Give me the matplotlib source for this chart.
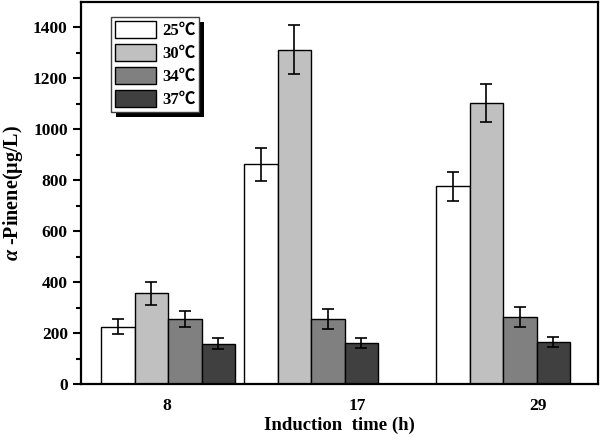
import numpy as np
import matplotlib
matplotlib.use('Agg')
import matplotlib.pyplot as plt
from matplotlib.patches import Rectangle

# data
times = ['8', '17', '29']
temps = ['25\u2103', '30\u2103', '34\u2103', '37\u2103']
pinene_25 = [225, 862, 777]
pinene_30 = [357, 1312, 1103]
pinene_34 = [255, 255, 262]
pinene_37 = [158, 162, 164]
err_25 = [30, 63, 57]
err_30 = [45, 96, 76]
err_34 = [32, 40, 39]
err_37 = [22, 20, 19]

series = [pinene_25, pinene_30, pinene_34, pinene_37]
errors = [err_25, err_30, err_34, err_37]
colors = ['white', '#c0c0c0', '#808080', '#404040']

# layout (in bar-width units) - groups are not evenly spaced in the original
group_left = np.array([0.6, 4.87, 10.6])
label_pos = [2.57, 8.24, 13.64]

plt.rcParams['mathtext.fontset'] = 'custom'
plt.rcParams['mathtext.it'] = 'Liberation Serif:bold:italic'
plt.rcParams['mathtext.rm'] = 'Liberation Serif:bold'
serif = ['Liberation Serif', 'Noto Sans CJK SC', 'DejaVu Serif']

fig = plt.figure(figsize=(6, 4.4), dpi=100)
ax = fig.add_axes([81/600, 56/440, 517/600, 382/440])

for i in range(4):
    ax.bar(group_left + i + 0.5, series[i], width=1.0, color=colors[i],
           edgecolor='black', linewidth=1.0, label=temps[i], zorder=2)
    ax.errorbar(group_left + i + 0.5, series[i], yerr=errors[i], fmt='none',
                ecolor='black', elinewidth=1.2, capsize=4, capthick=1.2, zorder=3)

ax.set_xlim(0, 15.43)
ax.set_ylim(0, 1500)
ax.set_xticks(label_pos)
ax.set_xticklabels(times)
ax.set_yticks(np.arange(0, 1401, 200))
ax.set_yticks(np.arange(100, 1500, 200), minor=True)
ax.tick_params(axis='x', length=0, pad=10)
ax.tick_params(axis='y', which='major', direction='out', length=6, width=1.5)
ax.tick_params(axis='y', which='minor', direction='out', length=3.5, width=1.5)
for lab in ax.get_xticklabels() + ax.get_yticklabels():
    lab.set_family(serif)
    lab.set_fontweight('bold')
    lab.set_fontsize(12.5)
for s in ax.spines.values():
    s.set_linewidth(1.6)

ax.set_xlabel('Induction  time (h)', family=serif, fontweight='bold', fontsize=13.5, labelpad=2)
ax.set_ylabel(r'$\it{\alpha}$ -Pinene(' + '\u03bcg/L)',
              family=serif, fontweight='bold', fontsize=14.5, labelpad=6)

leg = ax.legend(loc='upper left', bbox_to_anchor=(0.058, 0.961), borderaxespad=0,
                prop={'family': serif, 'weight': 'bold', 'size': 12},
                handlelength=2.45, handleheight=1.2, labelspacing=0.28,
                handletextpad=0.35, borderpad=0.25, fancybox=False, framealpha=1)
leg.get_frame().set_edgecolor('#404040')
leg.get_frame().set_linewidth(1.0)
leg.set_zorder(5)

# solid black drop shadow behind the legend
fig.canvas.draw()
bb = leg.get_window_extent().transformed(fig.transFigure.inverted())
dx, dy = 5/600, 5/440
ax.add_patch(Rectangle((bb.x0 + dx, bb.y0 - dy), bb.width, bb.height,
                       transform=fig.transFigure, facecolor='black',
                       edgecolor='none', zorder=4, clip_on=False))

plt.savefig('out.png', dpi=100)
